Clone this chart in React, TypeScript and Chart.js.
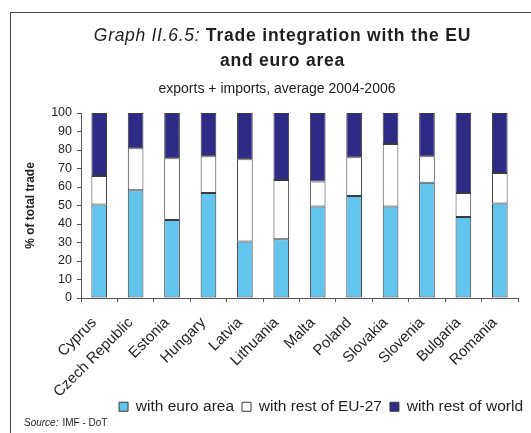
import React, { useEffect, useRef } from 'react';
import { Chart, registerables } from 'chart.js';

Chart.register(...registerables);

// ---- data ----
const categories = [
  'Cyprus', 'Czech Republic', 'Estonia', 'Hungary', 'Latvia', 'Lithuania',
  'Malta', 'Poland', 'Slovakia', 'Slovenia', 'Bulgaria', 'Romania',
];
const withEuroArea = [50.5, 58.3, 42.2, 56.7, 30.6, 31.7, 49.5, 55.1, 49.5, 62.3, 43.8, 51.1];
const withRestOfEU27 = [15.4, 22.7, 33.3, 19.9, 44.4, 32.1, 13.5, 21.0, 33.8, 14.3, 12.9, 16.5];
const withRestOfWorld = [34.1, 19.0, 24.5, 23.4, 25.0, 36.2, 37.0, 23.9, 16.7, 23.4, 43.3, 32.4];
const seriesNames = ['with euro area', 'with rest of EU-27', 'with rest of world'];
const yMin = 0;
const yMax = 100;
const yStep = 10;

const titleItalic = 'Graph II.6.5:';
const titleBold1 = ' Trade integration with the EU';
const titleBold2 = 'and euro area';
const subtitle = 'exports + imports, average 2004-2006';
const yAxisTitle = '% of total trade';
const sourceLabel = 'Source:';
const sourceText = 'IMF - DoT';

const FONT = '"Liberation Sans", Arial, Helvetica, sans-serif';
const TEXT = '#1e1e1e';
const EDGE = '#3a3a3a';

const textPlugin = {
  id: 'graphTexts',
  afterLayout(chart: any) {
    // let the rotated category labels run past the axis box (they overlap the legend band in the reference)
    const s = chart.scales.x;
    if (s) s.bottom = s.top + 120;
  },
  afterDraw(chart: any) {
    const ctx = chart.ctx as any;
    ctx.save();
    ctx.fillStyle = TEXT;
    ctx.textBaseline = 'alphabetic';
    ctx.textAlign = 'left';
    const fI = `italic 17.5px ${FONT}`;
    const fB = `bold 17.5px ${FONT}`;
    ctx.font = fI;
    ctx.letterSpacing = '0.7px';
    const w1 = ctx.measureText(titleItalic).width;
    ctx.font = fB;
    ctx.letterSpacing = '0.8px';
    const w2 = ctx.measureText(titleBold1).width;
    const cx = 282.5;
    const x0 = cx - (w1 + w2) / 2;
    ctx.font = fI;
    ctx.letterSpacing = '0.7px';
    ctx.fillText(titleItalic, x0, 40.7);
    ctx.font = fB;
    ctx.letterSpacing = '0.8px';
    ctx.fillText(titleBold1, x0 + w1, 40.7);
    ctx.textAlign = 'center';
    ctx.fillText(titleBold2, cx, 65.7);
    ctx.letterSpacing = '0px';
    ctx.font = `14px ${FONT}`;
    ctx.fillText(subtitle, 277, 93);
    ctx.textAlign = 'left';
    ctx.font = `italic 10px ${FONT}`;
    ctx.fillText(sourceLabel, 24, 426);
    const ws = ctx.measureText(sourceLabel).width;
    ctx.font = `10px ${FONT}`;
    ctx.fillText(sourceText, 24 + ws + 4, 426);
    ctx.restore();
  },
};

export default function App() {
  const canvasRef = useRef<HTMLCanvasElement | null>(null);

  useEffect(() => {
    const canvas = canvasRef.current;
    if (!canvas) return;
    const colors = ['#63C4EE', '#FFFFFF', '#2F2A85'];
    const series = [withEuroArea, withRestOfEU27, withRestOfWorld];
    const chart = new Chart(canvas, {
      type: 'bar',
      data: {
        labels: categories,
        datasets: series.map((d, i) => ({
          label: seriesNames[i],
          data: d,
          backgroundColor: colors[i],
          borderColor: EDGE,
          borderWidth: 1,
          borderSkipped: false,
          barPercentage: 0.43,
          categoryPercentage: 1,
        })),
      },
      options: {
        responsive: false,
        animation: false,
        devicePixelRatio: 1,
        layout: { padding: { left: 10, right: 0, top: 113, bottom: 8.5 } },
        plugins: {
          legend: {
            position: 'bottom',
            align: 'end',
            labels: {
              boxWidth: 9,
              boxHeight: 9,
              padding: 8,
              color: TEXT,
              font: { family: FONT, size: 15.5 },
            },
          },
          tooltip: { enabled: false },
          title: { display: false },
        },
        scales: {
          x: {
            stacked: true,
            grid: { display: true, drawOnChartArea: false, drawTicks: true, tickLength: 4, color: '#555', offset: true },
            border: { display: true, color: '#555' },
            ticks: {
              minRotation: 45,
              maxRotation: 45,
              autoSkip: false,
              padding: 12,
              labelOffset: -5,
              color: TEXT,
              font: { family: FONT, size: 15 },
            },
            afterFit: (s: any) => { s.height = 93; },
          },
          y: {
            stacked: true,
            min: yMin,
            max: yMax,
            ticks: { stepSize: yStep, padding: 5, color: TEXT, font: { family: FONT, size: 12.5 } },
            grid: { drawOnChartArea: false, tickLength: 4, color: '#555' },
            border: { color: '#555' },
            title: {
              display: true,
              text: yAxisTitle,
              color: TEXT,
              font: { family: FONT, size: 12, weight: 'bold' },
              padding: { top: 13.6, bottom: 0 },
            },
            afterFit: (s: any) => { s.width = 71; },
          },
          y2: {
            position: 'right',
            display: true,
            grid: { display: false },
            border: { display: false },
            ticks: { display: false },
            afterFit: (s: any) => { s.width = 13; },
          },
        },
      },
      plugins: [textPlugin],
    } as any);
    return () => chart.destroy();
  }, []);

  return (
    <div style={{ position: 'fixed', left: 0, top: 0, width: 531, height: 433, overflow: 'hidden', background: '#fff' }}>
      <div style={{ position: 'absolute', left: 10, top: 12, width: 600, height: 600, border: '1px solid #444', boxSizing: 'border-box' }} />
      <canvas ref={canvasRef} width={531} height={433} style={{ position: 'absolute', left: 0, top: 0, width: 531, height: 433 }} />
    </div>
  );
}
